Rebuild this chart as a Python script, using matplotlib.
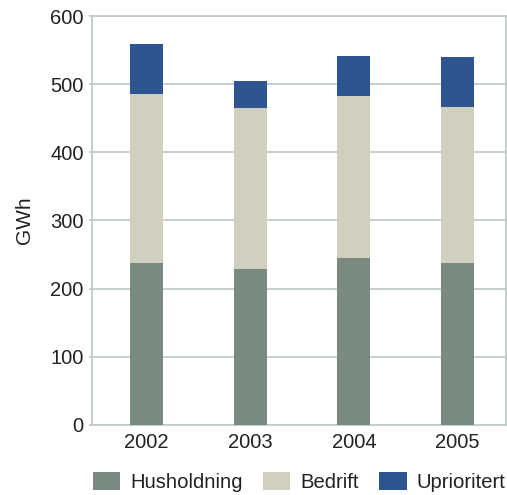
import numpy as np
import matplotlib.pyplot as plt

plt.rcParams['font.family'] = ['Liberation Sans', 'DejaVu Sans']

years = ['2002', '2003', '2004', '2005']
husholdning = [238, 229, 245, 238]
bedrift = [248, 236, 238, 229]
uprioritert = [74, 40, 59, 73]

c_hus = '#7a8a80'
c_bed = '#d0cfc0'
c_upr = '#2e5590'
c_grid = '#c3cbc9'
c_txt = '#222222'

fig = plt.figure(figsize=(5.07, 4.95), dpi=100)
ax = fig.add_axes([0.1815, 0.1424, 0.8165, 0.8243])

x = np.arange(len(years))
w = 0.32
hus = np.array(husholdning)
bed = np.array(bedrift)
upr = np.array(uprioritert)
ax.bar(x, hus, w, color=c_hus, label='Husholdning', zorder=3)
ax.bar(x, bed, w, bottom=hus, color=c_bed, label='Bedrift', zorder=3)
ax.bar(x, upr, w, bottom=hus + bed, color=c_upr, label='Uprioritert', zorder=3)

ax.set_ylim(0, 600)
ax.set_xlim(-0.526, 3.468)
ax.set_yticks(np.arange(0, 601, 100))
ax.set_xticks(x)
ax.set_xticklabels(years)
ax.yaxis.grid(True, color=c_grid, linewidth=1.3, zorder=0)
for s in ax.spines.values():
    s.set_color(c_grid)
    s.set_linewidth(1.3)
ax.tick_params(axis='y', length=2, color=c_grid, width=1.3, labelsize=14.5,
               labelcolor=c_txt, pad=4)
ax.tick_params(axis='x', length=0, labelsize=14.5, labelcolor=c_txt, pad=6)
ax.set_ylabel('GWh', fontsize=15, color=c_txt, labelpad=12)

fig.legend(loc='center', bbox_to_anchor=(0.59, 0.026), ncol=3, frameon=False,
           fontsize=14.6, handlelength=1.35, handleheight=0.95, handletextpad=0.5,
           columnspacing=1.0, labelcolor=c_txt)

fig.savefig('out.png', dpi=100)
